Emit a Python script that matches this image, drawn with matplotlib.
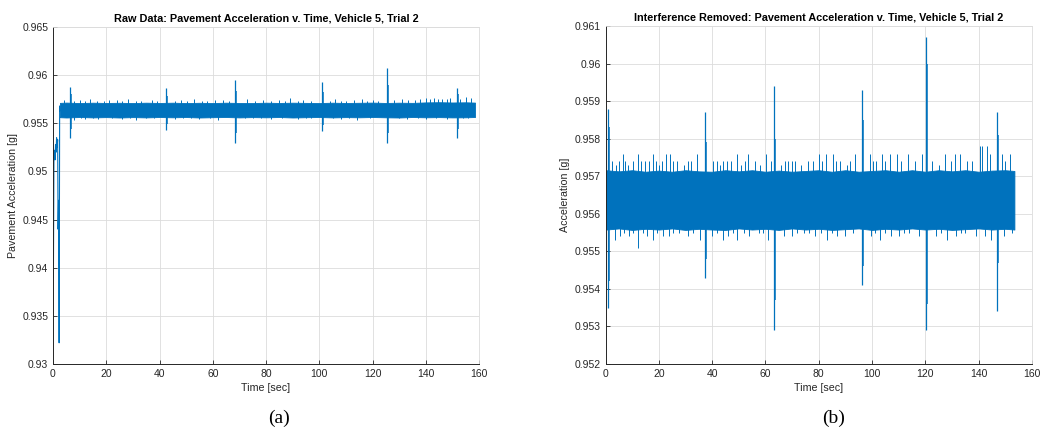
import numpy as np
import matplotlib.pyplot as plt

plt.rcParams['font.family'] = ['Liberation Sans', 'DejaVu Sans']

BLUE = '#0072BD'

# ---------------- (a) raw data ----------------
# start-up transient (sec, g)
trans_t_a = [0.0, 0.15, 0.35, 0.55, 0.75, 0.95, 1.15, 1.35, 1.55, 1.75, 1.9, 2.1, 2.3, 2.5, 2.7]
trans_v_a = [0.9572, 0.9390, 0.9515, 0.9522, 0.9512, 0.9528, 0.9520, 0.9535, 0.9525, 0.9533, 0.9440, 0.9470, 0.9322, 0.9568, 0.9563]

# noise band envelope
band_t_a = [2.6, 5, 10, 15, 20, 25, 30, 35, 40, 45, 50, 55, 60, 65, 70, 75, 80, 85, 90,
            95, 100, 105, 110, 115, 120, 125, 130, 135, 140, 145, 150, 155, 158.5]
band_hi_a = [0.95712, 0.95715, 0.95710, 0.95714, 0.95711, 0.95713, 0.95710, 0.95714, 0.95711,
             0.95714, 0.95710, 0.95713, 0.95710, 0.95714, 0.95711, 0.95710, 0.95714, 0.95711,
             0.95714, 0.95712, 0.95710, 0.95714, 0.95711, 0.95713, 0.95715, 0.95711, 0.95714,
             0.95712, 0.95717, 0.95719, 0.95716, 0.95718, 0.95715]
band_lo_a = [0.95563, 0.95560, 0.95565, 0.95561, 0.95564, 0.95560, 0.95564, 0.95561, 0.95565,
             0.95562, 0.95565, 0.95560, 0.95563, 0.95565, 0.95561, 0.95564, 0.95562, 0.95565,
             0.95560, 0.95563, 0.95565, 0.95561, 0.95564, 0.95562, 0.95565, 0.95562, 0.95560,
             0.95565, 0.95562, 0.95564, 0.95561, 0.95562, 0.95565]

hair_up_t_a = [4, 8, 10, 12, 14, 16.5, 19, 21, 24, 26, 28, 31, 33, 37, 39, 46, 48, 50.5, 53,
               56, 58, 61, 64, 66, 73, 76, 79, 82, 85, 87, 89, 92, 94, 97, 104, 106, 108,
               110, 113, 116, 118, 120, 122, 128, 131, 133.5, 136, 138, 140, 141.5, 143, 144.5,
               146, 148, 149, 153, 155, 157]
hair_up_v_a = [0.9574, 0.9573, 0.9574, 0.9573, 0.9575, 0.9573, 0.9573, 0.9574, 0.9574, 0.9573,
               0.9575, 0.9573, 0.9573, 0.9574, 0.9573, 0.9573, 0.9574, 0.9573, 0.9575, 0.9573,
               0.9573, 0.9574, 0.9574, 0.9573, 0.9575, 0.9573, 0.9574, 0.9573, 0.9574, 0.9573,
               0.9576, 0.9573, 0.9574, 0.9573, 0.9573, 0.9575, 0.9573, 0.9573, 0.9574, 0.9575,
               0.9573, 0.9574, 0.9573, 0.9574, 0.9575, 0.9574, 0.9574, 0.9575, 0.9576, 0.9575,
               0.9576, 0.9575, 0.9575, 0.9575, 0.9576, 0.9575, 0.9577, 0.9576]
hair_dn_t_a = [8, 10.5, 12, 15, 17, 22, 26, 29, 31, 35, 38, 46, 49, 52, 55, 59, 62, 72, 75,
               78, 82, 86, 92, 95, 97, 105, 108, 111, 114, 119, 130, 133, 137, 140, 144,
               148, 154, 156]
hair_dn_v_a = [0.9553, 0.9555, 0.9554, 0.9555, 0.9554, 0.9555, 0.9554, 0.9555, 0.9553,
               0.9555, 0.9555, 0.9554, 0.9555, 0.9555, 0.9554, 0.9555, 0.9553, 0.9555, 0.9555,
               0.9555, 0.9554, 0.9555, 0.9554, 0.9555, 0.9555, 0.9555, 0.9554, 0.9555, 0.9553,
               0.9555, 0.9555, 0.9554, 0.9555, 0.9554, 0.9555, 0.9554, 0.9555, 0.9555]

# vehicle passes
event_t_a = [6.4, 42.3, 68.4, 101.1, 125.3, 151.9]
event_up_a = [0.9588, 0.9587, 0.9595, 0.9593, 0.9607, 0.9587]
event_dn_a = [0.9535, 0.9543, 0.9530, 0.9542, 0.9530, 0.9535]
event_up2_a = [0.9580, 0.9578, 0.9584, 0.9583, 0.9590, 0.9580]
event_dn2_a = [0.9544, 0.9549, 0.9540, 0.9548, 0.9540, 0.9544]

# ---------------- (b) interference removed ----------------
band_t_b = [0.3, 5, 10, 15, 20, 25, 30, 35, 40, 45, 50, 55, 60, 65, 70, 75, 80, 85, 90,
            95, 100, 105, 110, 115, 120, 125, 130, 135, 140, 145, 150, 153.4]
band_hi_b = [0.95716, 0.95713, 0.95716, 0.95712, 0.95715, 0.95712, 0.95716, 0.95713, 0.95712,
             0.95716, 0.95713, 0.95716, 0.95712, 0.95715, 0.95712, 0.95714, 0.95716, 0.95712,
             0.95716, 0.95712, 0.95714, 0.95716, 0.95712, 0.95716, 0.95712, 0.95716, 0.95713,
             0.95716, 0.95712, 0.95715, 0.95716, 0.95714]
band_lo_b = [0.95558, 0.95561, 0.95557, 0.95560, 0.95558, 0.95561, 0.95557, 0.95560, 0.95558,
             0.95557, 0.95561, 0.95558, 0.95560, 0.95557, 0.95561, 0.95558, 0.95560, 0.95557,
             0.95559, 0.95561, 0.95557, 0.95560, 0.95558, 0.95561, 0.95558, 0.95560, 0.95557,
             0.95559, 0.95561, 0.95558, 0.95560, 0.95558]

hair_up_t_b = [2.5, 4.1, 5.2, 6.4, 7.5, 8.5, 10.3, 12.1, 13.5, 15.0, 16.2, 17.7, 19.0, 20.1,
               21.3, 22.6, 24.2, 25.5, 27.0, 29.5, 30.8, 32.0, 34.2, 40.5, 41.7, 43.0, 44.2,
               45.5, 47.0, 49.2, 51.0, 52.2, 53.3, 56.0, 58.0, 60.2, 62.0, 66.0, 67.2, 68.5,
               69.8, 71.0, 73.5, 76.0, 78.0, 80.1, 81.3, 82.6, 85.2, 86.5, 88.0, 90.5, 91.8,
               93.7, 99.2, 100.3, 101.5, 103.6, 105.0, 106.7, 109.2, 111.0, 113.4, 116.0,
               118.6, 122.5, 125.0, 127.4, 129.5, 131.1, 133.0, 135.5, 137.5, 140.5, 141.4,
               143.0, 144.2, 148.6, 150.0, 151.7]
hair_up_v_b = [0.9574, 0.9573, 0.9574, 0.9576, 0.9574, 0.9573, 0.9574, 0.9576, 0.9574, 0.9574,
               0.9574, 0.9576, 0.9574, 0.9573, 0.9574, 0.9576, 0.9576, 0.9574, 0.9574, 0.9573,
               0.9574, 0.9574, 0.9576, 0.9574, 0.9574, 0.9573, 0.9574, 0.9574, 0.9574, 0.9576,
               0.9573, 0.9574, 0.9576, 0.9574, 0.9573, 0.9576, 0.9574, 0.9573, 0.9574, 0.9574,
               0.9574, 0.9574, 0.9573, 0.9574, 0.9574, 0.9576, 0.9574, 0.9576, 0.9576, 0.9574,
               0.9574, 0.9573, 0.9574, 0.9576, 0.9576, 0.9574, 0.9574, 0.9576, 0.9574, 0.9576,
               0.9576, 0.9574, 0.9576, 0.9574, 0.9576, 0.9574, 0.9573, 0.9576, 0.9574, 0.9576,
               0.9576, 0.9574, 0.9574, 0.9578, 0.9578, 0.9578, 0.9576, 0.9576, 0.9574, 0.9576]
hair_dn_t_b = [3.5, 5.5, 7.0, 9.0, 10.5, 12.3, 14.0, 15.5, 18.0, 19.5, 21.5, 24.0, 25.5,
               27.5, 31.0, 33.0, 35.3, 40.0, 42.0, 44.0, 46.0, 48.0, 49.5, 52.0, 54.0, 57.5,
               59.0, 61.0, 67.0, 70.0, 72.0, 74.5, 76.5, 78.5, 81.0, 83.0, 85.0, 87.0, 90.0,
               93.0, 99.5, 101.0, 103.0, 105.0, 107.0, 110.0, 112.0, 114.0, 117.5, 124.0,
               126.0, 128.0, 131.5, 133.5, 135.0, 139.0, 142.5, 144.5, 149.5, 152.5]
hair_dn_v_b = [0.9553, 0.9554, 0.9555, 0.9554, 0.9555, 0.9551, 0.9555, 0.9554, 0.9553,
               0.9555, 0.9554, 0.9554, 0.9555, 0.9555, 0.9554, 0.9555, 0.9553, 0.9554, 0.9555,
               0.9553, 0.9554, 0.9555, 0.9553, 0.9555, 0.9554, 0.9555, 0.9555, 0.9553, 0.9554,
               0.9554, 0.9555, 0.9555, 0.9555, 0.9554, 0.9555, 0.9553, 0.9555, 0.9554, 0.9554,
               0.9555, 0.9554, 0.9555, 0.9553, 0.9555, 0.9554, 0.9554, 0.9555, 0.9555, 0.9554,
               0.9554, 0.9555, 0.9553, 0.9554, 0.9555, 0.9555, 0.9554, 0.9554, 0.9553, 0.9554,
               0.9555]

event_t_b = [1.05, 37.3, 63.2, 96.1, 120.1, 146.8]
event_up_b = [0.9588, 0.9587, 0.9594, 0.9593, 0.9607, 0.9587]
event_dn_b = [0.9535, 0.9543, 0.9529, 0.9541, 0.9529, 0.9534]
event_up2_b = [0.9583, 0.9579, 0.9580, 0.9585, 0.9600, 0.9581]
event_dn2_b = [0.9542, 0.9548, 0.9537, 0.9546, 0.9536, 0.9547]

W, H = 1041, 443
fig = plt.figure(figsize=(W / 100, H / 100), dpi=100)
ax_a = fig.add_axes([53 / W, 1 - 364 / H, 426 / W, 337 / H])
ax_b = fig.add_axes([605.5 / W, 1 - 364 / H, 426.5 / W, 338 / H])


def draw_signal(ax, band_t, hi, lo, up_t, up_v, dn_t, dn_v, ev_t, ev_up, ev_dn, ev_up2, ev_dn2):
    mid = (np.mean(hi) + np.mean(lo)) / 2
    ax.fill_between(band_t, lo, hi, color=BLUE, lw=0.6, ec=BLUE)
    ax.vlines(up_t, mid, up_v, color=BLUE, lw=0.7)
    ax.vlines(dn_t, dn_v, mid, color=BLUE, lw=0.7)
    ev = np.array(ev_t)
    ax.vlines(ev, mid, ev_up, color=BLUE, lw=0.9)
    ax.vlines(ev, ev_dn, mid, color=BLUE, lw=0.9)
    ax.vlines(ev + 0.35, ev_dn2, ev_up2, color=BLUE, lw=1.1)
    ax.vlines(ev - 0.35, mid - 0.0004, mid + 0.0004, color=BLUE, lw=1.1)


draw_signal(ax_a, band_t_a, band_hi_a, band_lo_a, hair_up_t_a, hair_up_v_a, hair_dn_t_a,
            hair_dn_v_a, event_t_a, event_up_a, event_dn_a, event_up2_a, event_dn2_a)
ax_a.plot(trans_t_a, trans_v_a, color=BLUE, lw=0.8)

draw_signal(ax_b, band_t_b, band_hi_b, band_lo_b, hair_up_t_b, hair_up_v_b, hair_dn_t_b,
            hair_dn_v_b, event_t_b, event_up_b, event_dn_b, event_up2_b, event_dn2_b)

for ax, ylim, yt, title, ylab in [
        (ax_a, (0.93, 0.965), np.arange(0.93, 0.9651, 0.005),
         'Raw Data: Pavement Acceleration v. Time, Vehicle 5, Trial 2', 'Pavement Acceleration [g]'),
        (ax_b, (0.952, 0.961), np.arange(0.952, 0.96101, 0.001),
         'Interference Removed: Pavement Acceleration v. Time, Vehicle 5, Trial 2', 'Acceleration [g]')]:
    ax.set_xlim(0, 160)
    ax.set_ylim(*ylim)
    ax.set_xticks(range(0, 161, 20))
    ax.set_yticks(yt)
    ax.set_yticklabels([f'{v:g}' for v in np.round(yt, 3)])
    ax.grid(True, color='#dcdcdc', lw=0.6)
    ax.set_axisbelow(True)
    ax.tick_params(direction='in', length=3, width=0.6, labelsize=7.5, colors='#262626',
                   top=False, right=False)
    for s in ['left', 'bottom']:
        ax.spines[s].set_color('#262626')
        ax.spines[s].set_linewidth(0.7)
    for s in ['top', 'right']:
        ax.spines[s].set_color('#dcdcdc')
        ax.spines[s].set_linewidth(0.6)
    ax.set_title(title, fontsize=7.8, fontweight='bold', pad=4)
    ax.set_xlabel('Time [sec]', fontsize=7.7, color='#262626', labelpad=3)
    ax.set_ylabel(ylab, fontsize=7.7, color='#262626', labelpad=3)

fig.text(279 / W, 1 - 418 / H, '(a)', family='Liberation Serif', fontsize=14,
         ha='center', va='center')
fig.text(834 / W, 1 - 418 / H, '(b)', family='Liberation Serif', fontsize=14,
         ha='center', va='center')

fig.savefig('out.png', dpi=100)
